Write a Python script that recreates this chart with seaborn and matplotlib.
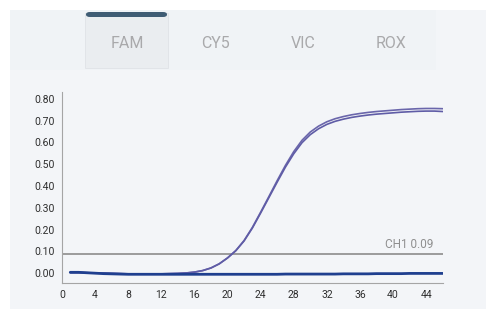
import numpy as np
import pandas as pd
import matplotlib
matplotlib.use("Agg")
import matplotlib.pyplot as plt
from matplotlib.patches import Rectangle, FancyBboxPatch
import seaborn as sns

sns.set_style("white")
plt.rcParams['font.family'] = ['Roboto', 'DejaVu Sans']

# cycles 1..46
cycles = list(range(1, 47))

# two positive FAM wells (nearly identical)
well_a = [0.003, 0.003, 0.002, 0.001, 0.000, -0.001, -0.002, -0.003, -0.003, -0.003,
          -0.003, -0.003, -0.002, -0.001, 0.001, 0.005, 0.012, 0.024, 0.043, 0.070,
          0.104, 0.150, 0.210, 0.280, 0.352, 0.425, 0.495, 0.558, 0.610, 0.648,
          0.675, 0.695, 0.709, 0.719, 0.727, 0.733, 0.738, 0.742, 0.745, 0.748,
          0.751, 0.753, 0.755, 0.756, 0.756, 0.755]
well_b = [0.003, 0.003, 0.002, 0.001, 0.000, -0.001, -0.002, -0.003, -0.003, -0.003,
          -0.003, -0.003, -0.002, -0.001, 0.001, 0.005, 0.012, 0.024, 0.043, 0.070,
          0.103, 0.148, 0.207, 0.276, 0.347, 0.418, 0.487, 0.548, 0.599, 0.636,
          0.663, 0.683, 0.697, 0.707, 0.715, 0.721, 0.726, 0.730, 0.733, 0.736,
          0.739, 0.741, 0.743, 0.744, 0.744, 0.742]
# negative well
well_neg = [0.004, 0.004, 0.002, 0.000, -0.002, -0.003, -0.004, -0.005, -0.005, -0.005,
            -0.005, -0.005, -0.005, -0.005, -0.005, -0.005, -0.005, -0.005, -0.005, -0.005,
            -0.005, -0.005, -0.005, -0.005, -0.005, -0.005, -0.004, -0.004, -0.004, -0.004,
            -0.004, -0.004, -0.004, -0.003, -0.003, -0.003, -0.003, -0.002, -0.002, -0.002,
            -0.002, -0.001, -0.001, -0.001, -0.001, -0.001]

threshold = 0.09
threshold_label = "CH1 0.09"
tabs = ["FAM", "CY5", "VIC", "ROX"]
yticks = [0.0, 0.1, 0.2, 0.3, 0.4, 0.5, 0.6, 0.7, 0.8]
xticks = list(range(0, 45, 4))

df = pd.DataFrame({
    "cycle": cycles * 3,
    "rfu": well_a + well_b + well_neg,
    "well": ["A"] * 46 + ["B"] * 46 + ["N"] * 46,
})

bg = "#f3f5f8"
fig = plt.figure(figsize=(4.86, 3.09), dpi=100, facecolor="white")

# app panel + tab bar
fig.patches.append(Rectangle((10/486, 0), 1, 1 - 10/309, transform=fig.transFigure,
                             facecolor=bg, edgecolor="none", zorder=-3))
fig.patches.append(Rectangle((10/486, 1 - 70/309), 426/486, 60/309, transform=fig.transFigure,
                             facecolor="#f0f3f6", edgecolor="none", zorder=-2))
fig.patches.append(Rectangle((85/486, 1 - 68/309), 83/486, 55/309, transform=fig.transFigure,
                             facecolor="#eaedf0", edgecolor="#e0e3e7", lw=0.6, zorder=-1))
fig.patches.append(FancyBboxPatch((86/486, 1 - 17/309), 81/486, 5/309, transform=fig.transFigure,
                                  boxstyle="round,pad=0,rounding_size=0.008",
                                  facecolor="#3f5c74", edgecolor="none", zorder=-1))
for i, t in enumerate(tabs):
    fig.text((127 + i * 88) / 486, 1 - 43/309, t, ha="center", va="center",
             fontsize=11.5, color="#a9a9ab", zorder=3)

ax = fig.add_axes([62/486, 26/309, 380.7/486, 191.3/309])
ax.set_zorder(2)
ax.patch.set_alpha(0)

sns.lineplot(data=df, x="cycle", y="rfu", hue="well",
             palette={"A": "#6a66ab", "B": "#5f5ca6", "N": "#1f3f8f"},
             size="well", sizes={"A": 1.2, "B": 1.2, "N": 2.0},
             legend=False, ax=ax)

ax.axhline(threshold, color="#9b9b9b", lw=1.4, zorder=1)
ax.text(44.9, threshold + 0.012, threshold_label, ha="right", va="bottom",
        fontsize=8.5, color="#8f8f8f")

ax.set_xlim(0, 46)
ax.set_ylim(-0.045, 0.833)
ax.set_xticks(xticks)
ax.set_yticks(yticks)
ax.set_yticklabels([f"{v:.2f}" for v in yticks])
ax.tick_params(axis="both", length=0, labelsize=7.5, colors="#2e2e2e")
ax.tick_params(axis="x", pad=5)
ax.tick_params(axis="y", pad=5)
ax.set_xlabel("")
ax.set_ylabel("")
for s in ["top", "right"]:
    ax.spines[s].set_visible(False)
for s in ["left", "bottom"]:
    ax.spines[s].set_color("#a5a5a5")
    ax.spines[s].set_linewidth(0.8)
ax.grid(False)

fig.savefig("out.png", dpi=100, facecolor="white")
